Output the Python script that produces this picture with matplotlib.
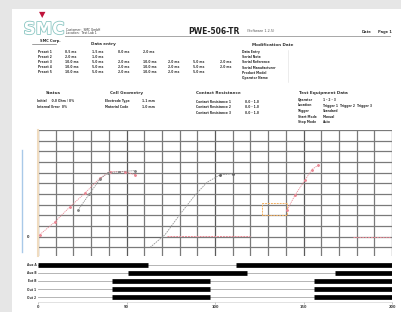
import matplotlib
matplotlib.use("Agg")
import matplotlib.pyplot as plt
import matplotlib.patheffects as pe
from matplotlib.patches import Rectangle
from matplotlib.lines import Line2D

W, H = 401, 312

# ---------------- data ----------------
x_ticks = [0, 50, 100, 150, 200]

red1_x = [1, 9.6, 18, 26.6, 35, 40.7, 49, 55]
red1_y = [0.2, 1.4, 2.8, 4.1, 5.5, 6.1, 6.1, 5.8]
gray1_x = [22.6, 29, 35, 39.5, 46, 55]
gray1_y = [2.5, 4.0, 5.4, 6.0, 6.1, 6.2]
base1_x = [50, 69]
base1_y = [0, 0]

gray2_x = [63.3, 71.8, 80.2, 88.7, 95.5, 102.8, 110.2]
gray2_y = [-1.0, 0.2, 2.1, 3.9, 5.1, 5.8, 5.9]
red2_x = [73, 120]
red2_y = [0.1, 0.1]

orange_x = [126.5, 126.5, 140.7, 140.7, 126.5]
orange_y = [2.0, 3.2, 3.2, 2.0, 2.0]
red3_x = [140.7, 145.2, 150.8, 154.8, 158.2]
red3_y = [2.5, 3.9, 5.3, 6.3, 6.7]
red3b_x = [178, 199]
red3b_y = [0, 0]

channels = ["Aux A", "Aux B", "Ext B", "Out 1", "Out 2"]
high_periods = [
    [(0, 62), (112, 200)],
    [(51, 118), (168, 200)],
    [(42, 97), (156, 200)],
    [(42, 97), (156, 200)],
    [(42, 97), (156, 200)],
]

# ---------------- figure ----------------
fig = plt.figure(figsize=(W / 100, H / 100), dpi=100, facecolor="#e6e6e6")


def fx(x):
    return x / W


def fy(y):
    return 1 - y / H


# page
fig.patches.append(Rectangle((fx(12), 0), 1 - fx(12), fy(9), transform=fig.transFigure,
                             facecolor="white", edgecolor="none", zorder=-10))


def T(x, y, s, size=2.6, weight="bold", color="#333333", ha="left", **kw):
    fig.text(fx(x), fy(y), s, fontsize=size, fontweight=weight, color=color,
             ha=ha, va="center", **kw)


# logo
fig.text(fx(44), fy(29), "SMC", fontsize=12, fontweight="bold", color="white", ha="center",
         va="center", path_effects=[pe.withStroke(linewidth=1.2, foreground="#8cc7c3")])
fig.text(fx(42), fy(15), "\u25BC", fontsize=6, color="#c0143c", ha="center", va="center")
T(40, 41, "SMC Corp.", size=2.6)
fig.lines.append(Line2D([fx(32), fx(56)], [fy(43.5), fy(43.5)], transform=fig.transFigure,
                        color="#555555", lw=0.4))
T(66, 30, "Customer:  SMC GmbH", size=2.2, weight="normal")
T(66, 33, "Location:  Test Lab 1", size=2.2, weight="normal")

# title
T(188, 31, "PWE-506-TR", size=5.5, color="#222222")
T(247, 31, "(Software 1.2.5)", size=2.4, weight="normal", color="#555555")
T(362, 32, "Date", size=2.6)
T(378, 32, "Page 1", size=2.6)
fig.lines.append(Line2D([fx(65), fx(390)], [fy(36), fy(36)], transform=fig.transFigure,
                        color="#999999", lw=0.6))

# data entry block
T(103, 44, "Data entry", size=3.0, ha="center")
cols = [38, 65, 92, 118, 143, 168, 193, 220]
rows = [
    ["Preset 1", "0.5 ms", "1.5 ms", "0.0 ms", "2.0 ms"],
    ["Preset 2", "2.0 ms", "1.0 ms"],
    ["Preset 3", "10.0 ms", "5.0 ms", "2.0 ms", "10.0 ms", "2.0 ms", "5.0 ms", "2.0 ms"],
    ["Preset 4", "10.0 ms", "5.0 ms", "2.0 ms", "10.0 ms", "2.0 ms", "5.0 ms", "2.0 ms"],
    ["Preset 5", "10.0 ms", "5.0 ms", "2.0 ms", "10.0 ms", "2.0 ms", "5.0 ms"],
]
for r, row in enumerate(rows):
    for c, s in enumerate(row):
        T(cols[c], 52 + r * 5, s, size=2.2)

T(273, 45, "Modification Date", size=3.0, ha="center")
mods = ["Data Entry", "Serial Note", "Serial Reference", "Serial Manufacturer",
        "Product Model", "Operator Name"]
for i, s in enumerate(mods):
    T(242, 52 + i * 5.2, s, size=2.2)
fig.lines.append(Line2D([fx(288), fx(288)], [fy(50), fy(82)], transform=fig.transFigure,
                        color="#dddddd", lw=0.4))

# second block
T(53, 93, "Status", size=3.0, ha="center")
T(127, 93, "Cell Geometry", size=3.0, ha="center")
T(218, 93, "Contact Resistance", size=3.0, ha="center")
T(323, 93, "Test Equipment Data", size=3.0, ha="center")
T(37, 101, "Initial     0.0 Ohm / 0%", size=2.2)
T(37, 107, "Internal Error  0%", size=2.2)
T(105, 101, "Electrode Type", size=2.2)
T(142, 101, "1.1 mm", size=2.2)
T(105, 107, "Material Code", size=2.2)
T(142, 107, "1.0 mm", size=2.2)
for i in range(3):
    T(196, 102 + i * 5.5, f"Contact Resistance {i + 1}", size=2.2)
    T(245, 102 + i * 5.5, "0.0 - 1.0", size=2.2)
te_l = ["Operator", "Location", "Trigger", "Start Mode", "Stop Mode"]
te_v = ["1 - 2 - 3", "Trigger 1  Trigger 2  Trigger 3", "Standard", "Manual", "Auto"]
for i in range(5):
    T(298, 100 + i * 5.5, te_l[i], size=2.2)
    T(323, 100 + i * 5.5, te_v[i], size=2.2)

# ---------------- main chart ----------------
ax = fig.add_axes([fx(38), fy(256), fx(392) - fx(38), fy(130) - fy(256)])
ax.set_xlim(0, 200)
ax.set_ylim(-1.8, 10)
for v in range(0, 201, 10):
    ax.axvline(v, color="#5a5a5a" if v % 50 == 0 else "#7a7a7a", lw=0.9, zorder=1)
for v in range(-1, 11):
    ax.axhline(v, color="#7a7a7a", lw=0.9, zorder=1)
ax.set_xticks([])
ax.set_yticks([0])
ax.set_yticklabels(["0"], fontsize=2.6, fontweight="bold", color="#333333")
ax.tick_params(axis="y", length=0, pad=6)
for s in ["top", "right", "bottom"]:
    ax.spines[s].set_visible(False)
ax.spines["left"].set_color("#f0dcc0")
ax.spines["left"].set_linewidth(1.5)

red = "#ea8a96"
ax.plot(red1_x, red1_y, color=red, lw=0.6, ls=(0, (1.5, 1)), marker="x", ms=1.4, zorder=3)
ax.plot(gray1_x, gray1_y, color="#8a8a8a", lw=0.6, ls=(0, (1.5, 1)), marker="x", ms=1.4, zorder=3)
ax.plot(base1_x, base1_y, color="#666666", lw=0.6, zorder=3)
ax.plot(gray2_x, gray2_y, color="#959595", lw=0.6, ls=(0, (2, 1)), zorder=3)
ax.plot(gray2_x[-2:], gray2_y[-2:], color="#666666", lw=0, marker="o", ms=1.1, zorder=3)
ax.plot(red2_x, red2_y, color=red, lw=0.7, ls=(0, (2, 1)), zorder=3)
ax.plot(orange_x, orange_y, color="#f3b060", lw=0.7, ls=(0, (2, 1)), zorder=3)
ax.plot(red3_x, red3_y, color=red, lw=0.6, ls=(0, (1.5, 1)), marker="x", ms=1.4, zorder=3)
ax.plot(red3b_x, red3b_y, color=red, lw=0.7, ls=(0, (2, 1)), zorder=3)

fig.lines.append(Line2D([fx(22), fx(22)], [fy(150), fy(252)], transform=fig.transFigure,
                        color="#a9c9e8", lw=1.0))

# ---------------- digital channels ----------------
dax = fig.add_axes([fx(38), fy(302), fx(392) - fx(38), fy(260) - fy(302)])
dax.set_xlim(0, 200)
dax.set_ylim(4.6, -0.6)
for i, periods in enumerate(high_periods):
    dax.plot([0, 200], [i, i], color="#aaaaaa", lw=0.6, zorder=1)
    for a, b in periods:
        dax.plot([a, b], [i, i], color="black", lw=3.4, solid_capstyle="butt", zorder=2)
dax.set_yticks(range(len(channels)))
dax.set_yticklabels(channels, fontsize=2.2, fontweight="bold", color="#333333")
dax.tick_params(axis="y", length=0, pad=1)
dax.set_xticks(x_ticks)
dax.set_xticklabels([str(t) for t in x_ticks], fontsize=2.6, fontweight="bold", color="#444444")
dax.tick_params(axis="x", length=1.5, width=0.4, color="#999999", pad=1)
for s in ["top", "right", "left"]:
    dax.spines[s].set_visible(False)
dax.spines["bottom"].set_color("#cccccc")
dax.spines["bottom"].set_linewidth(0.4)
dax.patch.set_alpha(0)

fig.savefig("out.png", dpi=100, facecolor=fig.get_facecolor())
